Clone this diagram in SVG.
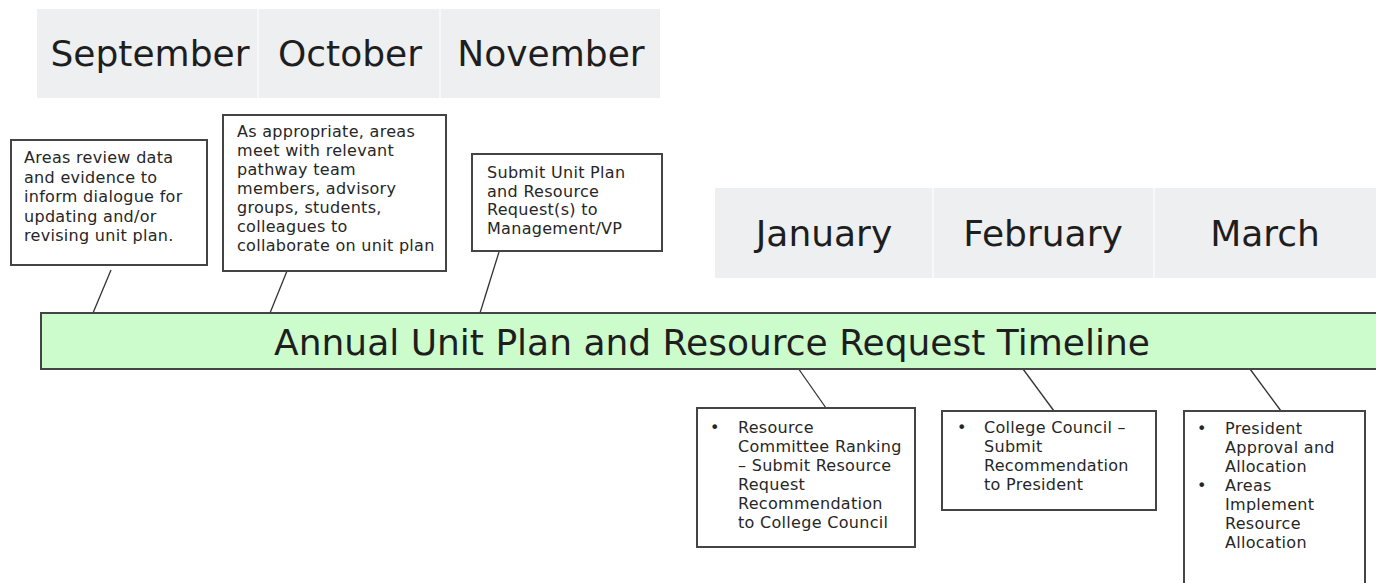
<svg xmlns="http://www.w3.org/2000/svg" width="1376" height="583" viewBox="0 0 1376 583">
<style>
.month{font-family:"DejaVu Sans",Verdana,sans-serif;font-size:36px;fill:#1e1e1e;text-anchor:middle}
.title{font-family:"DejaVu Sans",Verdana,sans-serif;font-size:36px;fill:#1e1e1e;text-anchor:middle}
.t{font-family:"DejaVu Sans",Verdana,sans-serif;font-size:16px;letter-spacing:0.3px;fill:#262626}
.box{fill:#ffffff;stroke:#444;stroke-width:2}
.mbar{fill:#eeeff1}
.div{stroke:#f8f8f8;stroke-width:2}
.conn{stroke:#333;stroke-width:1.3;fill:none}
</style>
<rect width="1376" height="583" fill="#ffffff"/>
<g id="months-top">
<rect class="mbar" x="37" y="9" width="623" height="89"/>
<line class="div" x1="258" y1="9" x2="258" y2="98"/>
<line class="div" x1="440" y1="9" x2="440" y2="98"/>
<text class="month" x="150" y="66">September</text>
<text class="month" x="350" y="66">October</text>
<text class="month" x="551" y="66">November</text>
</g>
<g id="months-bottom">
<rect class="mbar" x="715" y="188" width="661" height="90"/>
<line class="div" x1="933" y1="188" x2="933" y2="278"/>
<line class="div" x1="1154" y1="188" x2="1154" y2="278"/>
<text class="month" x="824" y="246">January</text>
<text class="month" x="1043" y="246">February</text>
<text class="month" x="1265" y="246">March</text>
</g>
<g id="connectors">
<line class="conn" x1="111" y1="270" x2="93" y2="313"/>
<line class="conn" x1="287" y1="271" x2="270" y2="313"/>
<line class="conn" x1="499" y1="252" x2="480" y2="313"/>
<line class="conn" x1="798" y1="368" x2="826" y2="408"/>
<line class="conn" x1="1023" y1="369" x2="1054" y2="411"/>
<line class="conn" x1="1250" y1="369" x2="1281" y2="411"/>
</g>
<g id="timeline">
<rect x="41" y="313" width="1345" height="56" fill="#ccfccc" stroke="#444" stroke-width="2"/>
<text class="title" x="712" y="355">Annual Unit Plan and Resource Request Timeline</text>
</g>
<g id="box-sep">
<rect class="box" x="11" y="140" width="196" height="125"/>
<text class="t" x="24" y="163">Areas review data</text>
<text class="t" x="24" y="182.5">and evidence to</text>
<text class="t" x="24" y="202">inform dialogue for</text>
<text class="t" x="24" y="221.5">updating and/or</text>
<text class="t" x="24" y="241">revising unit plan.</text>
</g>
<g id="box-oct">
<rect class="box" x="223" y="115" width="223" height="156"/>
<text class="t" x="237" y="137">As appropriate, areas</text>
<text class="t" x="237" y="156">meet with relevant</text>
<text class="t" x="237" y="175">pathway team</text>
<text class="t" x="237" y="194">members, advisory</text>
<text class="t" x="237" y="213">groups, students,</text>
<text class="t" x="237" y="232">colleagues to</text>
<text class="t" x="237" y="251">collaborate on unit plan</text>
</g>
<g id="box-nov">
<rect class="box" x="472" y="154" width="190" height="97"/>
<text class="t" x="487" y="178">Submit Unit Plan</text>
<text class="t" x="487" y="196.5">and Resource</text>
<text class="t" x="487" y="215">Request(s) to</text>
<text class="t" x="487" y="233.5">Management/VP</text>
</g>
<g id="box-jan">
<rect class="box" x="697" y="408" width="218" height="139"/>
<text class="t" x="710" y="433">•</text>
<text class="t" x="738" y="433">Resource</text>
<text class="t" x="738" y="452">Committee Ranking</text>
<text class="t" x="738" y="471">– Submit Resource</text>
<text class="t" x="738" y="490">Request</text>
<text class="t" x="738" y="509">Recommendation</text>
<text class="t" x="738" y="528">to College Council</text>
</g>
<g id="box-feb">
<rect class="box" x="942" y="411" width="214" height="99"/>
<text class="t" x="957" y="433">•</text>
<text class="t" x="984" y="433">College Council –</text>
<text class="t" x="984" y="452">Submit</text>
<text class="t" x="984" y="471">Recommendation</text>
<text class="t" x="984" y="490">to President</text>
</g>
<g id="box-mar">
<rect class="box" x="1184" y="411" width="181" height="190"/>
<text class="t" x="1197" y="434">•</text>
<text class="t" x="1225" y="434">President</text>
<text class="t" x="1225" y="453">Approval and</text>
<text class="t" x="1225" y="472">Allocation</text>
<text class="t" x="1197" y="491">•</text>
<text class="t" x="1225" y="491">Areas</text>
<text class="t" x="1225" y="510">Implement</text>
<text class="t" x="1225" y="529">Resource</text>
<text class="t" x="1225" y="548">Allocation</text>
</g>
</svg>
